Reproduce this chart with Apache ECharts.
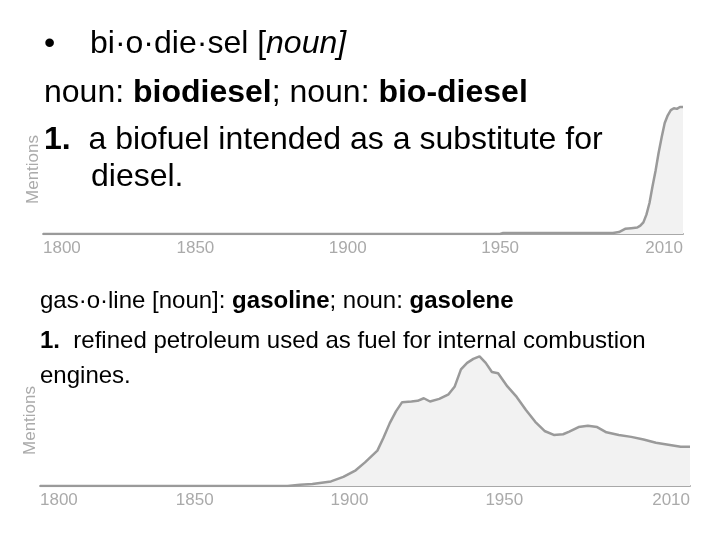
<!DOCTYPE html>
<html>
<head>
<meta charset="utf-8">
<script src="https://cdn.jsdelivr.net/npm/echarts/dist/echarts.min.js"></script>
<style>
  html, body { margin: 0; padding: 0; background: #fff; }
  #main { width: 720px; height: 540px; }
</style>
</head>
<body>
<div id="main"></div>
<script>
  // tick labels shown on both ngram charts (not evenly spaced)
  var yearTicks = [1800, 1850, 1900, 1950, 2010];

  // biodiesel mentions (0-100 relative)
  var bioYears  = [1800, 1950, 1951, 1987, 1989, 1991, 1993, 1995, 1996, 1997, 1998, 1999, 2000, 2001, 2002, 2003, 2004, 2005, 2006, 2007, 2008, 2009, 2010];
  var bioValues = [0, 0, 0.8, 0.8, 1.5, 4, 4.5, 5, 6.5, 9, 15, 24, 37, 49, 63, 75, 86, 92, 96, 97.5, 97, 98.5, 98.5];

  // gasoline mentions
  var gasYears  = [1800, 1880, 1884, 1888, 1891, 1894, 1898, 1902, 1905, 1909, 1911, 1913, 1915, 1917, 1920, 1922, 1924, 1926, 1929, 1932, 1934, 1936, 1938, 1940, 1942, 1944, 1946, 1948, 1951, 1954, 1957, 1960, 1963, 1966, 1969, 1971, 1974, 1977, 1980, 1983, 1987, 1991, 1995, 1999, 2003, 2007, 2010];
  var gasValues = [0, 0, 1, 1.5, 2.5, 3.5, 7, 12, 18, 27, 37, 48, 57, 64, 64.5, 65, 67, 64.5, 66.5, 70, 76, 89, 94, 97, 99, 94, 87, 86, 76, 68, 58, 49, 42, 39, 39.5, 41.5, 45, 46, 45, 41, 39, 37.5, 35.5, 33, 31.5, 30, 30];

  var FONT = '"Liberation Sans", Arial, sans-serif';

  function pairs(xs, ys) {
    var out = [];
    for (var i = 0; i < xs.length; i++) out.push([xs[i], ys[i]]);
    return out;
  }

  function xAxisFor(idx) {
    return {
      type: 'value', gridIndex: idx, min: 1800, max: 2010,
      axisLine: { show: true, lineStyle: { color: '#a8a8a8', width: 2 } },
      axisTick: { show: false },
      splitLine: { show: false },
      axisLabel: {
        customValues: yearTicks,
        formatter: function (v) { return String(v); },
        color: '#aaaaaa', fontSize: 17, fontFamily: FONT, margin: 6,
        alignMinLabel: 'left', alignMaxLabel: 'right'
      }
    };
  }

  function yAxisFor(idx) {
    return {
      type: 'value', gridIndex: idx, min: 0, max: 100,
      name: 'Mentions', nameLocation: 'middle', nameRotate: 90, nameGap: 1,
      nameTextStyle: { color: '#aaaaaa', fontSize: 17, fontFamily: FONT },
      axisLine: { show: false }, axisTick: { show: false },
      axisLabel: { show: false }, splitLine: { show: false }
    };
  }

  function ngramSeries(idx, data) {
    return {
      type: 'line', xAxisIndex: idx, yAxisIndex: idx, data: data,
      symbol: 'none', smooth: false,
      lineStyle: { color: '#9a9a9a', width: 2.5 },
      areaStyle: { color: '#f2f2f2', opacity: 1 }
    };
  }

  // one text line of the slide; rich parts for bold / italic words
  function line(x, y, size, text) {
    return {
      type: 'text', x: x, y: y, z: 10,
      style: {
        text: text, fill: '#000', verticalAlign: 'middle',
        fontSize: size, fontFamily: FONT,
        rich: {
          b: { fontWeight: 'bold', fontSize: size, fontFamily: FONT, fill: '#000' },
          i: { fontStyle: 'italic', fontSize: size, fontFamily: FONT, fill: '#000' }
        }
      }
    };
  }

  var chart = echarts.init(document.getElementById('main'));
  chart.setOption({
    animation: false,
    grid: [
      { left: 43, right: 37, top: 105, bottom: 306 },
      { left: 40, right: 30, top: 355, bottom: 54 }
    ],
    xAxis: [xAxisFor(0), xAxisFor(1)],
    yAxis: [yAxisFor(0), yAxisFor(1)],
    series: [
      ngramSeries(0, pairs(bioYears, bioValues)),
      ngramSeries(1, pairs(gasYears, gasValues))
    ],
    graphic: [
      line(44, 44, 32, '•'),
      line(90, 44, 32, 'bi·o·die·sel [{i|noun]}'),
      line(44, 93, 32, 'noun: {b|biodiesel}; noun: {b|bio-diesel}'),
      line(44, 140, 32, '{b|1.}  a biofuel intended as a substitute for'),
      line(91, 177, 32, 'diesel.'),
      line(40, 301, 24, 'gas·o·line [noun]: {b|gasoline}; noun: {b|gasolene}'),
      line(40, 341, 24, '{b|1.}  refined petroleum used as fuel for internal combustion'),
      line(40, 376, 24, 'engines.')
    ]
  });
</script>
</body>
</html>
